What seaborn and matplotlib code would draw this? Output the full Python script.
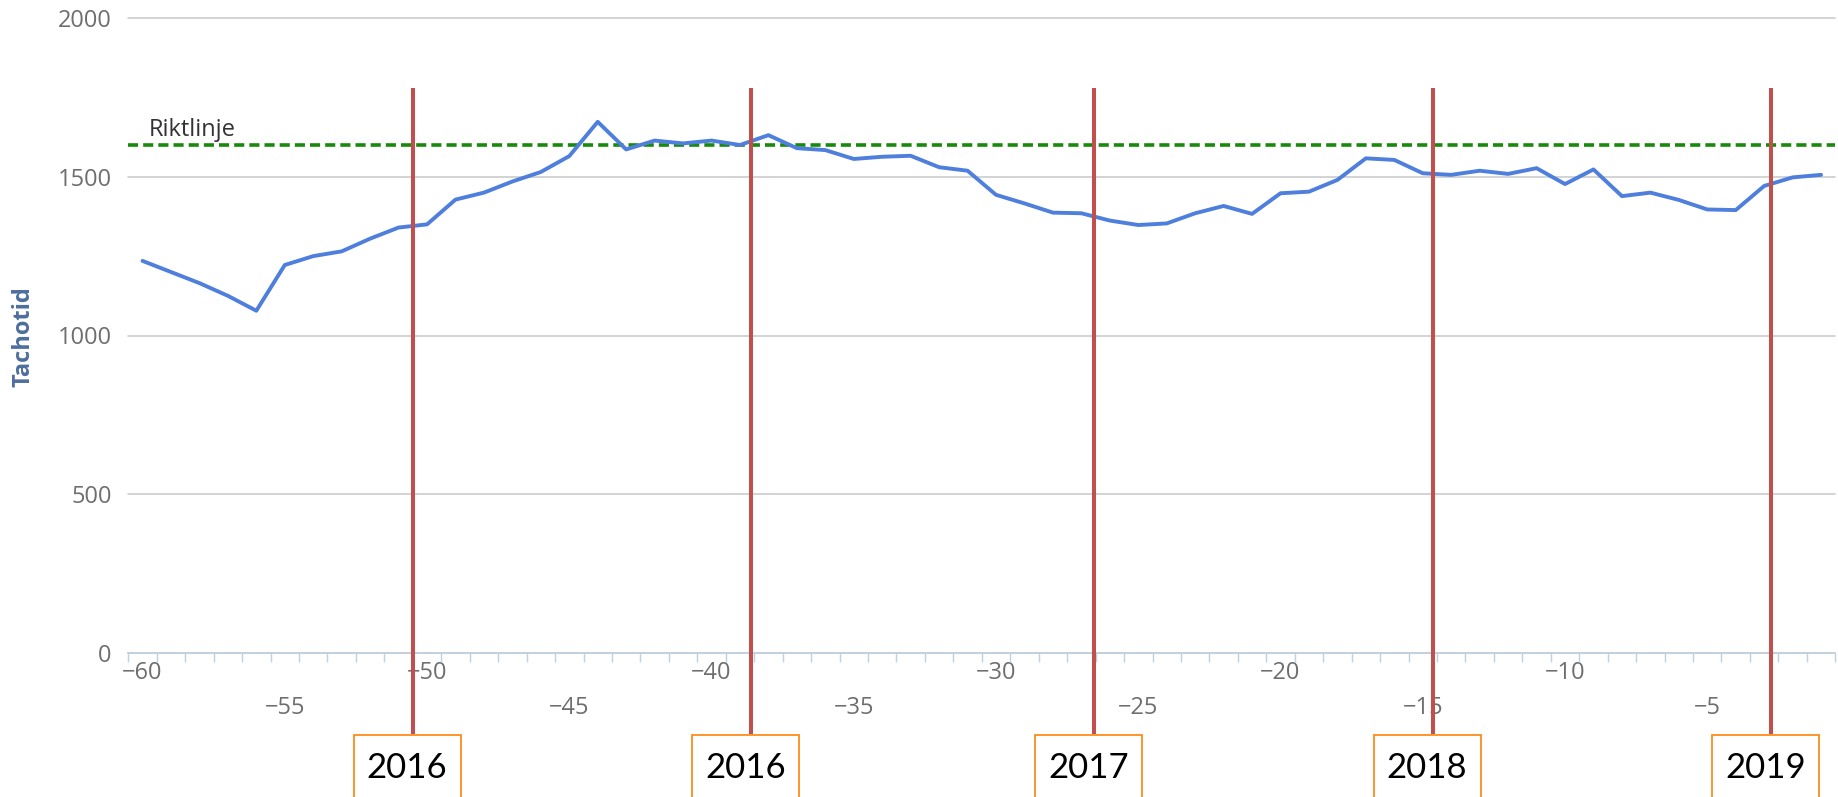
import numpy as np
import matplotlib
matplotlib.use("Agg")
import matplotlib.pyplot as plt
import matplotlib.transforms as mtransforms
from matplotlib.patches import Rectangle
import seaborn as sns

# Data
weeks = list(range(-60, 0))
tachotid = [1235, 1200, 1165, 1125, 1078, 1222, 1250, 1265, 1305, 1340,
            1350, 1428, 1450, 1485, 1515, 1565, 1673, 1586, 1614, 1605,
            1614, 1600, 1631, 1590, 1584, 1556, 1563, 1566, 1530, 1519,
            1443, 1416, 1387, 1385, 1362, 1348, 1353, 1385, 1408, 1383,
            1448, 1453, 1490, 1558, 1553, 1511, 1506, 1519, 1509, 1527,
            1477, 1523, 1439, 1450, 1427, 1397, 1395, 1471, 1498, 1506]
riktlinje = 1600
year_labels = ["2016", "2016", "2017", "2018", "2019"]
year_marks = [-50.5, -38.6, -26.55, -14.65, -2.75]
x_ticks = list(range(-60, 0, 5))
y_ticks = [0, 500, 1000, 1500, 2000]

sns.set_theme(style="white")
plt.rcParams['font.family'] = ['Open Sans', 'DejaVu Sans']

fig = plt.figure(figsize=(18.38, 7.97), dpi=100)
ax = fig.add_axes([128.3 / 1838, 144 / 797, 1707 / 1838, 635 / 797])

sns.lineplot(x=weeks, y=tachotid, ax=ax, color='#4f7fdd', linewidth=2.8, zorder=3,
             solid_joinstyle='round', solid_capstyle='round')

ax.set_xlim(-60.5, -0.5)
ax.set_ylim(0, 2000)

# y axis
ax.set_yticks(y_ticks)
ax.yaxis.grid(True, color='#c8c8c8', linewidth=1.1)
ax.xaxis.grid(False)
for gl in ax.get_ygridlines():
    gl.set_clip_on(False)
ax.tick_params(axis='y', length=0, pad=12, labelsize=17, labelcolor='#6e6e6e')
ax.set_ylabel('')
ax.set_xlabel('')

# x axis: category ticks between points, staggered labels
ax.set_xticks(x_ticks)
ax.set_xticks(np.arange(-60.5, 0, 1), minor=True)
ax.tick_params(axis='x', which='major', bottom=True, length=0, pad=6,
               labelsize=17, labelcolor='#6e6e6e')
ax.tick_params(axis='x', which='minor', bottom=True, length=6.5, width=1,
               color='#c0d0e0', direction='out')
for t in ax.xaxis.get_major_ticks()[1::2]:
    t.set_pad(31)

for side in ['left', 'top', 'right']:
    ax.spines[side].set_visible(False)
ax.spines['bottom'].set_color('#c0d0e0')
ax.spines['bottom'].set_linewidth(1.2)

# guideline
ax.axhline(riktlinje, color='#178a0c', linewidth=2.6, linestyle=(0, (2.8, 1.4)), zorder=2.5)
ax.text(-59.77, 1628, 'Riktlinje', fontsize=17, color='#333333', va='baseline')

# year markers
ax.vlines(year_marks, -255, 1780, colors='#c0504d', linewidth=2.9, clip_on=False, zorder=6)

blend = mtransforms.blended_transform_factory(ax.transData, fig.transFigure)
box_top = 1 - 735 / 797
for lab, m in zip(year_labels, year_marks):
    cx = m - 0.2
    fig.add_artist(Rectangle((cx - 1.87, -0.05), 3.75, box_top + 0.05, transform=blend,
                             facecolor='white', edgecolor='#ff8c1a', linewidth=1.3,
                             zorder=7, clip_on=False))
    fig.text(cx, 1 - 768 / 797, lab, transform=blend, ha='center', va='center',
             fontsize=25, family=['Lato', 'DejaVu Sans'], color='black', zorder=8)

fig.text(24 / 1838, 1 - 337 / 797, 'Tachotid', rotation=90, ha='center', va='center',
         fontsize=17, fontweight='bold', color='#4d6e9e')

fig.savefig('out.png', dpi=100)
